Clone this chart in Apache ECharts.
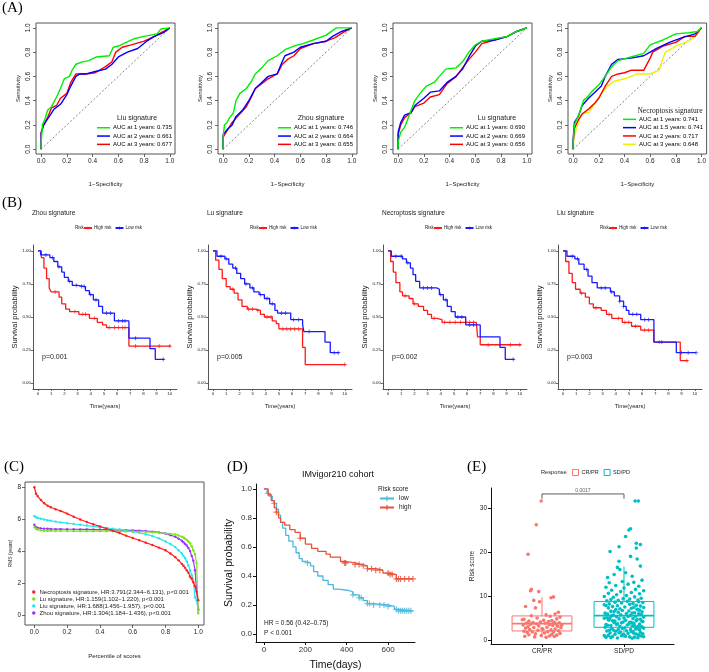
<!DOCTYPE html>
<html><head><meta charset="utf-8">
<script src="https://cdn.jsdelivr.net/npm/echarts@6/dist/echarts.min.js"></script>
<style>html,body{margin:0;padding:0;background:#fff}#c{width:709px;height:672px}</style>
</head><body><div id="c"></div>
<script>
const SANS = "'Liberation Sans', Arial, Helvetica, sans-serif";
const SERIF = "'Liberation Serif', 'Times New Roman', serif";

// ================= DATA =================
// ---- (A) ROC curves: [1-specificity, sensitivity] ----
const rocTicks = [0, 0.2, 0.4, 0.6, 0.8, 1.0];
const rocTitles = ['Liu signature', 'Zhou signature', 'Lu signature', 'Necroptosis signature'];
const liuAucLabels = ['AUC at 1 years: 0.735', 'AUC at 2 years: 0.661', 'AUC at 3 years: 0.677'];
const zhouAucLabels = ['AUC at 1 years: 0.746', 'AUC at 2 years: 0.664', 'AUC at 3 years: 0.655'];
const luAucLabels = ['AUC at 1 years: 0.690', 'AUC at 2 years: 0.669', 'AUC at 3 years: 0.656'];
const necroAucLabels = ['AUC at 1 years: 0.741', 'AUC at 1.5 years: 0.741', 'AUC at 2 years: 0.717', 'AUC at 3 years: 0.648'];
const rocDiagonal = [[0, 0], [1, 1]];

const liuRoc1 = [[0,0],[0,0.05],[0.01,0.2],[0.03,0.25],[0.05,0.32],[0.08,0.35],[0.12,0.43],[0.15,0.5],[0.18,0.58],[0.22,0.6],[0.24,0.65],[0.27,0.7],[0.32,0.72],[0.37,0.73],[0.43,0.76],[0.53,0.77],[0.56,0.84],[0.6,0.85],[0.64,0.87],[0.72,0.91],[0.8,0.93],[0.9,0.95],[0.93,0.99],[1,1]];
const liuRoc2 = [[0,0],[0,0.13],[0.02,0.2],[0.05,0.25],[0.07,0.28],[0.1,0.33],[0.15,0.37],[0.2,0.45],[0.23,0.52],[0.27,0.6],[0.3,0.62],[0.35,0.62],[0.42,0.64],[0.5,0.66],[0.55,0.7],[0.6,0.76],[0.67,0.8],[0.75,0.83],[0.82,0.89],[0.88,0.93],[0.95,0.96],[1,1]];
const liuRoc3 = [[0,0],[0,0.14],[0.02,0.2],[0.05,0.26],[0.08,0.34],[0.12,0.36],[0.15,0.42],[0.2,0.46],[0.23,0.55],[0.27,0.62],[0.35,0.62],[0.42,0.63],[0.5,0.68],[0.55,0.72],[0.58,0.8],[0.63,0.84],[0.7,0.86],[0.8,0.89],[0.88,0.93],[0.95,0.97],[1,1]];
const zhouRoc1 = [[0,0],[0,0.1],[0.01,0.2],[0.03,0.22],[0.05,0.26],[0.08,0.3],[0.1,0.4],[0.13,0.46],[0.18,0.5],[0.22,0.56],[0.25,0.62],[0.3,0.67],[0.35,0.73],[0.42,0.77],[0.48,0.82],[0.55,0.85],[0.62,0.87],[0.7,0.9],[0.8,0.94],[0.88,1],[1,1]];
const zhouRoc2 = [[0,0],[0,0.12],[0.03,0.16],[0.07,0.2],[0.1,0.27],[0.15,0.32],[0.2,0.4],[0.25,0.5],[0.3,0.55],[0.35,0.6],[0.42,0.62],[0.45,0.7],[0.48,0.77],[0.55,0.8],[0.6,0.84],[0.7,0.87],[0.8,0.89],[0.85,0.93],[0.92,0.97],[1,1]];
const zhouRoc3 = [[0,0],[0,0.1],[0.03,0.15],[0.07,0.22],[0.12,0.28],[0.18,0.35],[0.22,0.43],[0.25,0.5],[0.3,0.54],[0.35,0.58],[0.42,0.62],[0.46,0.7],[0.5,0.74],[0.55,0.77],[0.6,0.83],[0.7,0.87],[0.8,0.89],[0.87,0.92],[0.93,0.96],[1,1]];
const luRoc1 = [[0,0],[0,0.06],[0.02,0.14],[0.05,0.18],[0.08,0.26],[0.1,0.32],[0.13,0.4],[0.17,0.46],[0.22,0.52],[0.28,0.55],[0.32,0.6],[0.37,0.66],[0.45,0.67],[0.5,0.72],[0.55,0.8],[0.6,0.86],[0.65,0.89],[0.75,0.91],[0.85,0.93],[0.92,0.97],[1,1]];
const luRoc2 = [[0,0],[0,0.14],[0.02,0.22],[0.05,0.28],[0.1,0.3],[0.13,0.36],[0.2,0.42],[0.25,0.47],[0.32,0.48],[0.38,0.55],[0.45,0.6],[0.5,0.66],[0.55,0.76],[0.6,0.85],[0.65,0.89],[0.75,0.9],[0.85,0.93],[0.92,0.97],[1,1]];
const luRoc3 = [[0,0],[0,0.12],[0.02,0.2],[0.05,0.26],[0.1,0.3],[0.13,0.35],[0.2,0.38],[0.25,0.43],[0.32,0.45],[0.38,0.54],[0.45,0.6],[0.5,0.67],[0.55,0.74],[0.6,0.8],[0.65,0.87],[0.75,0.9],[0.85,0.93],[0.92,0.97],[1,1]];
const necroRoc1 = [[0,0],[0,0.05],[0.01,0.2],[0.03,0.25],[0.05,0.3],[0.08,0.4],[0.12,0.44],[0.15,0.48],[0.2,0.53],[0.25,0.6],[0.3,0.68],[0.35,0.73],[0.45,0.76],[0.55,0.79],[0.6,0.86],[0.7,0.9],[0.8,0.95],[0.9,0.96],[0.97,0.97],[1,1]];
const necroRoc15 = [[0,0],[0,0.08],[0.01,0.22],[0.04,0.27],[0.07,0.36],[0.12,0.42],[0.18,0.48],[0.22,0.52],[0.25,0.6],[0.3,0.7],[0.35,0.74],[0.45,0.75],[0.55,0.77],[0.6,0.8],[0.65,0.83],[0.75,0.88],[0.85,0.92],[0.95,0.95],[1,1]];
const necroRoc2 = [[0,0],[0,0.05],[0.01,0.17],[0.04,0.24],[0.07,0.29],[0.12,0.33],[0.17,0.38],[0.2,0.42],[0.25,0.52],[0.3,0.6],[0.35,0.62],[0.4,0.63],[0.45,0.65],[0.55,0.65],[0.6,0.75],[0.62,0.8],[0.7,0.85],[0.8,0.88],[0.87,0.93],[0.95,0.93],[1,1]];
const necroRoc3 = [[0,0],[0,0.05],[0.02,0.15],[0.05,0.25],[0.08,0.3],[0.12,0.3],[0.17,0.38],[0.22,0.46],[0.27,0.52],[0.32,0.56],[0.4,0.58],[0.45,0.6],[0.5,0.62],[0.6,0.62],[0.67,0.65],[0.7,0.75],[0.72,0.8],[0.8,0.85],[0.9,0.89],[0.95,0.93],[1,1]];

// ---- (B) Kaplan-Meier curves: [years, survival] ----
const kmTitles = ['Zhou signature', 'Lu signature', 'Necroptosis signature', 'Liu signature'];
const kmPValues = ['p=0.001', 'p=0.005', 'p=0.002', 'p=0.003'];
const kmRiskGroups = ['High risk', 'Low risk'];
const kmXTicks = [0,1,2,3,4,5,6,7,8,9,10];
const kmYTicks = [0, 0.25, 0.5, 0.75, 1.0];
const zhouHigh = [[0,1],[0.25,0.95],[0.45,0.87],[0.65,0.79],[0.85,0.72],[1.0,0.69],[1.6,0.65],[1.8,0.6],[2.1,0.56],[2.4,0.54],[3.1,0.52],[3.9,0.49],[4.5,0.46],[4.9,0.44],[5.2,0.42],[6.9,0.28],[10.1,0.28]];
const zhouLow = [[0,1],[0.2,0.97],[0.9,0.95],[1.2,0.92],[1.5,0.88],[1.8,0.84],[2.0,0.8],[2.3,0.77],[2.6,0.74],[3.0,0.73],[3.6,0.7],[3.9,0.67],[4.2,0.63],[4.6,0.58],[4.9,0.53],[5.8,0.47],[6.9,0.34],[8.5,0.26],[8.9,0.18],[9.6,0.18]];
const luHigh = [[0,1],[0.2,0.93],[0.45,0.86],[0.7,0.79],[1.0,0.73],[1.3,0.71],[1.6,0.68],[1.9,0.63],[2.2,0.58],[2.6,0.56],[3.2,0.55],[3.6,0.52],[3.9,0.5],[4.5,0.47],[4.8,0.45],[5.0,0.41],[6.8,0.27],[7.0,0.14],[10.1,0.14]];
const luLow = [[0,1],[0.3,0.96],[0.9,0.94],[1.2,0.9],[1.5,0.87],[1.8,0.83],[2.1,0.79],[2.4,0.75],[2.8,0.72],[3.1,0.69],[3.5,0.67],[3.9,0.64],[4.3,0.6],[4.7,0.55],[4.9,0.53],[5.9,0.48],[6.8,0.44],[6.9,0.39],[8.5,0.31],[8.9,0.23],[9.6,0.23]];
const necroHigh = [[0,1],[0.2,0.92],[0.4,0.84],[0.6,0.76],[0.9,0.69],[1.1,0.66],[1.6,0.64],[1.9,0.6],[2.3,0.58],[2.7,0.55],[3.0,0.52],[3.3,0.49],[3.7,0.48],[4.1,0.46],[6.7,0.45],[6.8,0.35],[7.0,0.29],[10.1,0.29]];
const necroLow = [[0,1],[0.25,0.96],[1.1,0.94],[1.4,0.91],[1.7,0.87],[1.9,0.82],[2.1,0.77],[2.4,0.72],[3.7,0.71],[3.9,0.67],[4.2,0.63],[4.5,0.58],[4.8,0.54],[5.1,0.5],[5.9,0.44],[7.0,0.35],[8.5,0.27],[8.9,0.18],[9.6,0.18]];
const liuHigh = [[0,1],[0.2,0.92],[0.45,0.83],[0.7,0.76],[0.95,0.71],[1.3,0.68],[1.7,0.65],[2.0,0.6],[2.3,0.57],[2.9,0.55],[3.3,0.52],[3.7,0.49],[4.5,0.46],[5.2,0.43],[5.9,0.4],[6.9,0.31],[8.9,0.17],[9.5,0.17]];
const liuLow = [[0,1],[0.3,0.96],[0.9,0.94],[1.2,0.9],[1.6,0.86],[1.9,0.81],[2.2,0.76],[2.6,0.72],[3.6,0.69],[3.9,0.66],[4.3,0.62],[4.6,0.58],[4.8,0.55],[5.0,0.52],[5.9,0.48],[6.9,0.31],[8.6,0.23],[10.1,0.23]];
const zhouHighCens = [1.3, 2.8, 3.4, 3.6, 4.3, 5.4, 5.8, 6.1, 6.4, 6.6, 7.4, 9.2, 10.0];
const zhouLowCens = [0.6, 1.1, 1.6, 2.4, 2.9, 3.3, 3.5, 4.0, 4.4, 5.2, 5.5, 6.1, 6.4, 6.6, 7.4, 9.5];
const luHighCens = [1.5, 2.7, 3.0, 3.4, 4.1, 4.4, 5.3, 5.6, 5.9, 6.2, 6.5, 10.0];
const luLowCens = [0.6, 1.0, 1.7, 2.5, 3.0, 3.6, 4.1, 4.5, 5.2, 5.5, 6.1, 6.5, 7.3, 9.2, 9.5];
const necroHighCens = [1.3, 2.0, 3.5, 4.3, 4.7, 5.1, 5.5, 5.9, 6.2, 6.5, 7.6, 9.3, 10.0];
const necroLowCens = [0.6, 1.0, 1.5, 2.7, 3.0, 3.3, 4.0, 4.4, 5.3, 5.6, 6.2, 6.5, 9.5];
const liuHighCens = [1.4, 2.5, 3.5, 4.2, 4.7, 5.0, 5.5, 6.2, 6.5, 7.3, 9.4];
const liuLowCens = [0.7, 1.1, 1.8, 2.9, 3.2, 3.7, 4.3, 4.6, 5.3, 5.6, 6.2, 6.5, 7.5, 9.0, 9.5, 10.1];

// ---- (C) RMS curves ----
const rmsPct = [0, .01, .02, .04, .06, .08, .10, .13, .16, .20, .24, .28, .32, .36, .40, .44, .48, .52, .56, .60, .64, .68, .72, .76, .80, .83, .86, .88, .90, .91, .92, .93, .94, .95, .96, .97, .98, .99, 1.0];
const rmsNecro = [8.0, 7.6, 7.45, 7.2, 7.0, 6.85, 6.75, 6.62, 6.52, 6.35, 6.15, 5.98, 5.82, 5.68, 5.55, 5.4, 5.27, 5.13, 4.97, 4.82, 4.68, 4.53, 4.38, 4.22, 4.05, 3.85, 3.62, 3.42, 3.2, 3.08, 2.95, 2.8, 2.65, 2.4, 2.3, 2.05, 1.8, 1.45, 0.92];
const rmsLu = [5.5, 5.4, 5.35, 5.3, 5.28, 5.27, 5.27, 5.26, 5.26, 5.26, 5.25, 5.25, 5.25, 5.25, 5.25, 5.25, 5.25, 5.24, 5.23, 5.23, 5.22, 5.2, 5.18, 5.15, 5.12, 5.08, 5.05, 4.98, 4.9, 4.85, 4.78, 4.7, 4.6, 4.5, 4.3, 4.05, 3.8, 3.25, 0.1];
const rmsLiu = [6.2, 6.12, 6.08, 6.03, 5.98, 5.94, 5.9, 5.85, 5.8, 5.75, 5.7, 5.65, 5.6, 5.55, 5.5, 5.45, 5.4, 5.35, 5.28, 5.22, 5.15, 5.05, 4.95, 4.8, 4.6, 4.45, 4.25, 4.05, 3.85, 3.7, 3.55, 3.35, 3.1, 2.8, 2.5, 2.2, 1.1, 0.9, 0.25];
const rmsZhou = [5.65, 5.5, 5.45, 5.42, 5.4, 5.4, 5.39, 5.38, 5.38, 5.37, 5.37, 5.36, 5.36, 5.35, 5.35, 5.34, 5.33, 5.32, 5.31, 5.3, 5.28, 5.26, 5.22, 5.17, 5.1, 5.0, 4.9, 4.78, 4.65, 4.55, 4.45, 4.35, 4.2, 4.0, 3.7, 3.4, 2.8, 1.5, 0.35];
const rmsLabels = ['Necroptosis signature, HR:3.791(2.344\u22126.131), p<0.001', 'Lu signature, HR:1.159(1.102\u22121.220), p<0.001', 'Liu signature, HR:1.688(1.456\u22121.957), p<0.001', 'Zhou signature, HR:1.304(1.184\u22121.436), p<0.001'];
const rmsXTicks = [0, 0.2, 0.4, 0.6, 0.8, 1.0];
const rmsYTicks = [0, 2, 4, 6, 8];

// ---- (D) IMvigor210 KM: [days, survival] ----
const dGroups = ['low', 'high'];
const dLow = [[0,1],[15,0.97],[25,0.95],[40,0.92],[50,0.9],[60,0.86],[70,0.82],[80,0.77],[90,0.73],[105,0.68],[120,0.64],[140,0.6],[155,0.56],[170,0.52],[185,0.5],[200,0.49],[225,0.47],[240,0.43],[260,0.4],[285,0.37],[310,0.34],[335,0.31],[360,0.3],[410,0.29],[430,0.27],[460,0.25],[480,0.23],[500,0.21],[530,0.2],[600,0.19],[630,0.17],[650,0.16],[720,0.16]];
const dHigh = [[0,1],[20,0.96],[35,0.92],[50,0.87],[60,0.84],[70,0.8],[80,0.77],[100,0.75],[125,0.72],[150,0.7],[175,0.66],[200,0.62],[230,0.59],[260,0.57],[300,0.55],[320,0.53],[370,0.5],[390,0.49],[440,0.48],[470,0.47],[500,0.45],[540,0.44],[575,0.42],[610,0.41],[640,0.38],[720,0.38]];
const dLowCens = [20, 50, 210, 430, 460, 470, 500, 510, 530, 560, 580, 600, 640, 650, 660, 670, 680, 690, 700, 710];
const dHighCens = [60, 175, 390, 395, 440, 460, 480, 500, 520, 540, 560, 600, 610, 620, 640, 650, 660, 680, 700, 720];
const dXTicks = [0, 200, 400, 600];
const dYTicks = [0, 0.2, 0.4, 0.6, 0.8, 1.0];

// ---- (E) Risk score by response ----
const responseGroups = ['CR/PR', 'SD/PD'];
const crprBox = [0.7, 2.05, 3.72, 5.47, 9.7];   // lower whisker, Q1, median, Q3, upper whisker
const sdpdBox = [0.45, 2.89, 5.54, 8.73, 16.7];
const crprValues = [31.6, 26.2, 19.5, 11.5, 11.2, 11.0, 9.8, 9.6, 9.0, 8.7, 7.6, 7.3, 6.3, 5.9, 5.7, 5.5, 5.4, 5.2, 5.0, 4.8, 4.7, 4.5, 4.4, 4.3, 4.2, 4.1, 4.0, 3.95, 3.9, 3.85, 3.8, 3.7, 3.65, 3.6, 3.5, 3.4, 3.3, 3.2, 3.1, 3.0, 2.9, 2.85, 2.8, 2.7, 2.6, 2.5, 2.4, 2.3, 2.2, 2.1, 2.0, 1.9, 1.85, 1.8, 1.7, 1.6, 1.5, 1.4, 1.3, 1.2, 1.1, 1.0, 0.9, 0.85, 0.8, 0.7, 0.6, 4.6, 3.35, 2.45];
const crprJitter = [-0.01, -0.07, -0.17, -0.13, -0.14, -0.04, 0.14, 0.11, -0.10, -0.03, -0.2, -0.08, 0.2, 0.16, 0.05, -0.13, 0.1, 0.22, -0.06, 0.18, -0.22, 0.02, 0.12, -0.16, 0.08, -0.02, 0.15, -0.11, 0.21, -0.19, 0.04, -0.07, 0.17, -0.14, 0.09, -0.23, 0.13, -0.04, 0.19, -0.17, 0.06, -0.1, 0.23, -0.2, 0.0, 0.16, -0.15, 0.11, -0.05, 0.2, -0.22, 0.07, -0.12, 0.14, -0.18, 0.03, 0.22, -0.08, 0.12, -0.16, 0.18, -0.01, 0.09, -0.21, 0.15, -0.09, 0.05, -0.24, 0.24, 0.01];
const sdpdValues = [31.6, 31.6, 25.3, 25.0, 23.5, 22.0, 21.7, 21.2, 20.9, 20.1, 19.0, 18.4, 17.9, 16.8, 16.5, 16.0, 15.3, 14.9, 14.5, 14.2, 13.6, 13.3, 13.1, 13.0, 12.7, 12.4, 12.2, 12.0, 11.8, 11.5, 11.3, 11.2, 11.0, 10.8, 10.6, 10.5, 10.3, 10.1, 9.9, 9.8, 9.7, 9.5, 9.4, 9.3, 9.2, 9.1, 9.0,
  8.9, 8.8, 8.7, 8.6, 8.5, 8.4, 8.3, 8.2, 8.1, 8.0,
  7.9, 7.8, 7.7, 7.6, 7.5, 7.4, 7.3, 7.2, 7.1, 7.0, 7.85, 7.45,
  6.9, 6.8, 6.7, 6.6, 6.5, 6.4, 6.3, 6.2, 6.1, 6.0, 6.85, 6.45, 6.15,
  5.9, 5.8, 5.7, 5.6, 5.5, 5.4, 5.3, 5.2, 5.1, 5.0, 5.95, 5.65, 5.35, 5.05,
  4.9, 4.8, 4.7, 4.6, 4.5, 4.4, 4.3, 4.2, 4.1, 4.0, 4.95, 4.65, 4.35, 4.05, 4.55, 4.25,
  3.9, 3.8, 3.7, 3.6, 3.5, 3.4, 3.3, 3.2, 3.1, 3.0, 3.95, 3.65, 3.35, 3.05, 3.55, 3.25,
  2.9, 2.8, 2.7, 2.6, 2.5, 2.4, 2.3, 2.2, 2.1, 2.0, 2.95, 2.65, 2.35, 2.05, 2.55, 2.25,
  1.9, 1.8, 1.7, 1.6, 1.5, 1.4, 1.3, 1.2, 1.1, 1.0, 1.95, 1.65, 1.35, 1.05, 1.55, 1.25,
  0.9, 0.8, 0.7, 0.6, 0.5, 0.45, 0.85, 0.65, 0.55, 0.75, 0.95, 0.4];
const sdpdJitter = [0.135, 0.175, 0.08, 0.06, 0.02, 0.15, 0.2, -0.06, 0.15, -0.17, 0.08, 0.16, -0.06, 0.2, -0.08, -0.05, 0.02, -0.12, 0.1, -0.2, 0.22, -0.02, 0.12, -0.18, 0.05, -0.1, 0.18, -0.22, 0.0, 0.14, -0.15, 0.24, -0.04, 0.09, -0.19, 0.19, -0.09, 0.03, -0.24, 0.13, -0.13, 0.21, -0.01, 0.07, -0.16, 0.17, -0.07,
  -0.21, 0.04, 0.18, -0.11, 0.23, -0.03, 0.11, -0.18, 0.07, -0.24,
  0.15, -0.08, 0.2, -0.14, 0.01, 0.24, -0.19, 0.09, -0.05, 0.16,
  -0.22, 0.12, -0.1, 0.19, -0.02, 0.06, -0.16, 0.22, -0.07, 0.13,
  -0.23, 0.03, 0.17, -0.12, 0.1, -0.2, 0.21, -0.04, 0.08, -0.15,
  0.14, -0.09, 0.24, -0.17, 0.0, 0.18, -0.13, 0.05, -0.21, 0.11,
  -0.06, 0.2, -0.18, 0.02, 0.15, -0.11, 0.23, -0.01, 0.09, -0.24,
  0.16, -0.14, 0.07, -0.19, 0.22, -0.03, 0.12, -0.08, 0.19, -0.22,
  0.04, -0.16, 0.13, -0.05, 0.21, -0.12, 0.06, -0.2, 0.17, -0.09,
  0.1, -0.23, 0.01, 0.24, -0.15, 0.14, -0.07, 0.19, -0.18, 0.03,
  -0.1, 0.22, -0.02, 0.08, -0.21, 0.16, -0.13, 0.11, -0.04, 0.2,
  -0.17, 0.05, 0.23, -0.11, 0.0, 0.18, -0.24, 0.09, -0.06, 0.15,
  -0.19, 0.12, -0.01, 0.21, -0.14, 0.07, -0.22, 0.17, -0.08, 0.02,
  0.13, -0.16, 0.24, -0.03, 0.1];
const eYTicks = [0, 10, 20, 30];
const bracketX = [1, 1, 2, 2];
const bracketY = [32.1, 33.2, 33.2, 32.1];
const pLabel = '0.0017';

// ================= BUILD =================
const chart = echarts.init(document.getElementById('c'), null, {renderer: 'canvas', width: 709, height: 672});
const grid = [], xAxis = [], yAxis = [], series = [], legend = [], graphic = [];
const PLUS = 'path://M4,0H6V4H10V6H6V10H4V6H0V4H4Z';

function txt(x, y, text, size, opts) {
  opts = opts || {};
  graphic.push({type: 'text', x: x, y: y, rotation: opts.rotation || 0, silent: true, style: {
    text: text, fill: opts.color || '#000', fontSize: size, fontFamily: opts.family || SANS,
    fontWeight: opts.weight || 'normal',
    align: opts.align || 'left', verticalAlign: opts.va || 'middle', textAlign: opts.align || 'left', textVerticalAlign: opts.va || 'middle'}});
}
function stepAt(curve, t) { let y = curve[0][1]; for (const p of curve) { if (p[0] <= t) y = p[1]; else break; } return y; }
function baseAxis(gi, min, max, ticks, fmt, fs, extra) {
  return Object.assign({gridIndex: gi, type: 'value', min: min, max: max,
    axisLine: {show: false, onZero: false}, splitLine: {show: false},
    axisTick: {show: true, inside: false, length: 3, customValues: ticks, lineStyle: {color: '#444', width: 0.8}},
    axisLabel: {customValues: ticks, formatter: fmt, fontSize: fs, color: '#222', fontFamily: SANS, margin: 4}}, extra || {});
}

// ---- Panel labels ----
txt(2, 8, '(A)', 15, {family: SERIF});
txt(2, 203, '(B)', 15, {family: SERIF});
txt(4, 467, '(C)', 15, {family: SERIF});
txt(227, 467, '(D)', 15, {family: SERIF});
txt(467, 467, '(E)', 15, {family: SERIF});

// ---- (A) ROC ----
const rocPanels = [
  {labels: liuAucLabels, curves: [liuRoc1, liuRoc2, liuRoc3]},
  {labels: zhouAucLabels, curves: [zhouRoc1, zhouRoc2, zhouRoc3]},
  {labels: luAucLabels, curves: [luRoc1, luRoc2, luRoc3]},
  {labels: necroAucLabels, curves: [necroRoc1, necroRoc15, necroRoc2, necroRoc3]}
];
const ROC_LEFT = [36, 218, 393, 568];
const ROC_COLORS = [['#00ee00', '#0000ff', '#ff0000'], ['#00ee00', '#0000ff', '#ff0000', '#f0f000']];
const ROC_LEG = [[97, 123.6], [278, 123.6], [450, 123.6], [623, 115.2]];
const ROC_TITLE = [[137, 118, SANS], [321, 118, SANS], [497, 118, SANS], [670, 111, SERIF]];
rocPanels.forEach((p, i) => {
  const gi = grid.length;
  grid.push({left: ROC_LEFT[i], top: 23, width: 139, height: 131, show: true, borderColor: '#555', borderWidth: 1, backgroundColor: 'transparent'});
  xAxis.push(baseAxis(gi, -0.04, 1.04, rocTicks, v => v.toFixed(1), 6.5,
    {name: '1\u2212Specificity', nameLocation: 'middle', nameGap: 27, nameTextStyle: {fontSize: 6, fontFamily: SANS, color: '#222'}}));
  const ya = baseAxis(gi, -0.04, 1.04, rocTicks, v => v.toFixed(1), 6.5,
    {name: 'Sensitivity', nameLocation: 'middle', nameGap: 15, nameTextStyle: {fontSize: 6, fontFamily: SANS, color: '#222'}});
  ya.axisLabel.rotate = 90;
  yAxis.push(ya);
  series.push({type: 'line', xAxisIndex: gi, yAxisIndex: gi, data: rocDiagonal, symbol: 'none', silent: true,
    lineStyle: {type: [2, 2], color: '#666', width: 0.8}, z: 1});
  const cols = p.curves.length === 4 ? ROC_COLORS[1] : ROC_COLORS[0];
  p.curves.forEach((c, k) => {
    series.push({type: 'line', name: p.labels[k], xAxisIndex: gi, yAxisIndex: gi, data: c, symbol: 'none',
      lineStyle: {color: cols[k], width: 1.4}, itemStyle: {color: cols[k]}, z: 3 + (p.curves.length - k)});
  });
  legend.push({data: p.labels.map(n => ({name: n, icon: 'rect'})), orient: 'vertical', left: ROC_LEG[i][0], top: ROC_LEG[i][1], padding: 0, itemGap: 0,
    itemWidth: 13, itemHeight: 1.5, selectedMode: false, textStyle: {fontSize: 6, lineHeight: 8.3, fontFamily: SANS, color: '#000', padding: [0, 0, 0, -2]}});
  txt(ROC_TITLE[i][0], ROC_TITLE[i][1], rocTitles[i], i === 3 ? 7.5 : 7, {align: 'center', family: ROC_TITLE[i][2], color: '#222'});
});

// ---- (B) KM ----
const kmPanels = [
  {high: zhouHigh, low: zhouLow, hc: zhouHighCens, lc: zhouLowCens},
  {high: luHigh, low: luLow, hc: luHighCens, lc: luLowCens},
  {high: necroHigh, low: necroLow, hc: necroHighCens, lc: necroLowCens},
  {high: liuHigh, low: liuLow, hc: liuHighCens, lc: liuLowCens}
];
const KM_LEFT = [33, 208, 383, 558];
const KM_RED = '#ff1a1a', KM_BLUE = '#1a1aff';
kmPanels.forEach((p, i) => {
  const gi = grid.length;
  const L = KM_LEFT[i];
  grid.push({left: L, top: 245, width: 144, height: 144});
  const xa = baseAxis(gi, -0.38, 10.55, kmXTicks, v => String(v), 4.4,
    {name: 'Time(years)', nameLocation: 'middle', nameGap: 14, nameTextStyle: {fontSize: 5.8, fontFamily: SANS, color: '#222'}});
  xa.axisLine = {show: true, onZero: false, lineStyle: {color: '#555', width: 1}};
  xa.axisTick.length = 2; xa.axisLabel.margin = 3;
  xAxis.push(xa);
  const ya = baseAxis(gi, -0.045, 1.045, kmYTicks, v => v.toFixed(2), 4.4,
    {name: 'Survival probability', nameLocation: 'middle', nameGap: 13, nameTextStyle: {fontSize: 7.5, fontFamily: SANS, color: '#222'}});
  ya.axisLine = {show: true, onZero: false, lineStyle: {color: '#555', width: 1}};
  ya.axisTick.length = 2; ya.axisLabel.margin = 2;
  yAxis.push(ya);
  [[p.high, p.hc, KM_RED, kmRiskGroups[0]], [p.low, p.lc, KM_BLUE, kmRiskGroups[1]]].forEach(([curve, cens, col, nm]) => {
    series.push({type: 'line', name: nm, step: 'end', xAxisIndex: gi, yAxisIndex: gi, data: curve,
      symbol: PLUS, symbolSize: 5, showSymbol: false, lineStyle: {color: col, width: 1.3}, itemStyle: {color: col}});
    series.push({type: 'scatter', name: nm + ' censored', xAxisIndex: gi, yAxisIndex: gi,
      data: cens.map(t => [t, stepAt(curve, t)]), symbol: PLUS, symbolSize: 4, itemStyle: {color: col}});
  });
  txt(L - 1, 213, kmTitles[i], 6.5, {color: '#222'});
  txt(L + 42, 228, 'Risk', 4.5, {color: '#222'});
  legend.push({data: kmRiskGroups, left: L + 50, top: 225.5, padding: 0, itemGap: 3, itemWidth: 8, itemHeight: 4,
    selectedMode: false, textStyle: {fontSize: 4.5, fontFamily: SANS, color: '#222', padding: [0, 0, 0, -3]}});
  txt(L + 9, 357, kmPValues[i], 7, {color: '#222'});
});

// ---- (C) RMS ----
{
  const gi = grid.length;
  grid.push({left: 25, top: 482, width: 179, height: 143, show: true, borderColor: '#555', borderWidth: 1, backgroundColor: 'transparent'});
  xAxis.push(baseAxis(gi, -0.057, 1.035, rmsXTicks, v => v.toFixed(1), 6.5,
    {name: 'Percentile of scores', nameLocation: 'middle', nameGap: 28, nameTextStyle: {fontSize: 6, fontFamily: SANS, color: '#222'}}));
  yAxis.push(baseAxis(gi, -0.63, 8.33, rmsYTicks, v => String(v), 6.5,
    {name: 'RMS (years)', nameLocation: 'middle', nameGap: 11, nameTextStyle: {fontSize: 5, fontFamily: SANS, color: '#222'}}));
  const cols = ['#ff2020', '#80e020', '#22e8f0', '#9b30ff'];
  [rmsNecro, rmsLu, rmsLiu, rmsZhou].forEach((vals, k) => {
    series.push({type: 'line', name: rmsLabels[k], xAxisIndex: gi, yAxisIndex: gi,
      data: rmsPct.map((p, j) => [p, vals[j]]), symbol: 'circle', symbolSize: 2.4, showSymbol: true,
      lineStyle: {color: cols[k], width: 1.2}, itemStyle: {color: cols[k]}, z: 5 - k});
  });
  legend.push({data: rmsLabels.map(n => ({name: n, icon: 'circle'})), orient: 'vertical', left: 32, top: 588.5, padding: 0, itemGap: 0,
    itemWidth: 3.5, itemHeight: 3.5, selectedMode: false, textStyle: {fontSize: 6, lineHeight: 7, fontFamily: SANS, color: '#222', padding: [0, 0, 0, -1]}});
}

// ---- (D) IMvigor210 ----
{
  const gi = grid.length;
  grid.push({left: 256, top: 484, width: 159, height: 159});
  const xa = baseAxis(gi, -38.7, 730, dXTicks, v => String(v), 8,
    {name: 'Time(days)', nameLocation: 'middle', nameGap: 18, nameTextStyle: {fontSize: 10.5, fontFamily: SANS, color: '#111'}});
  xa.axisLine = {show: true, onZero: false, lineStyle: {color: '#111', width: 1}};
  xa.axisTick.lineStyle = {color: '#111'}; xa.axisLabel.color = '#333';
  xAxis.push(xa);
  const ya = baseAxis(gi, -0.055, 1.034, dYTicks, v => v.toFixed(1), 8,
    {name: 'Survival probability', nameLocation: 'middle', nameGap: 21, nameTextStyle: {fontSize: 10.5, fontFamily: SANS, color: '#111'}});
  ya.axisLine = {show: true, onZero: false, lineStyle: {color: '#111', width: 1}};
  ya.axisTick.lineStyle = {color: '#111'}; ya.axisLabel.color = '#333';
  yAxis.push(ya);
  const cols = ['#4db6dc', '#e8503a'];
  [[dLow, dLowCens], [dHigh, dHighCens]].forEach(([curve, cens], k) => {
    series.push({type: 'line', name: dGroups[k], step: 'end', xAxisIndex: gi, yAxisIndex: gi, data: curve,
      symbol: PLUS, symbolSize: 7, showSymbol: false, lineStyle: {color: cols[k], width: 1.3}, itemStyle: {color: cols[k]}});
    series.push({type: 'scatter', name: dGroups[k] + ' censored', xAxisIndex: gi, yAxisIndex: gi,
      data: cens.map(t => [t, stepAt(curve, t)]), symbol: PLUS, symbolSize: 6, itemStyle: {color: cols[k]}});
  });
  txt(338, 475, 'IMvigor210 cohort', 9, {align: 'center', color: '#111'});
  txt(378, 489, 'Risk score', 6.5, {color: '#222'});
  legend.push({data: dGroups, orient: 'vertical', left: 379, top: 495, padding: 0, itemGap: 2, itemWidth: 14, itemHeight: 7,
    selectedMode: false, textStyle: {fontSize: 6.5, fontFamily: SANS, color: '#222'}});
  txt(264, 623, 'HR = 0.56 (0.42\u20130.75)', 6.5, {color: '#222'});
  txt(264, 633, 'P < 0.001', 6.5, {color: '#222'});
}

// ---- (E) Risk score boxplot ----
{
  const gi = grid.length;
  grid.push({left: 491, top: 488, width: 183, height: 156});
  const xa = baseAxis(gi, 0.378, 2.61, [1, 2], v => responseGroups[Math.round(v) - 1], 6.5, {});
  xa.axisLine = {show: true, onZero: false, lineStyle: {color: '#111', width: 1}};
  xa.axisTick.lineStyle = {color: '#111'}; xa.axisLabel.color = '#222';
  xAxis.push(xa);
  const ya = baseAxis(gi, -0.91, 34.55, eYTicks, v => String(v), 6.5,
    {name: 'Risk score', nameLocation: 'middle', nameGap: 13, nameTextStyle: {fontSize: 6.5, fontFamily: SANS, color: '#222'}});
  ya.axisLine = {show: true, onZero: false, lineStyle: {color: '#111', width: 1}};
  ya.axisTick.lineStyle = {color: '#111'}; ya.axisLabel.color = '#222';
  yAxis.push(ya);
  const cols = ['#F8766D', '#00BFC4'];
  const BOX_W = 0.73;
  [crprBox, sdpdBox].forEach((b, k) => {
    series.push({type: 'custom', name: responseGroups[k], xAxisIndex: gi, yAxisIndex: gi,
      data: [[k + 1].concat(b)], encode: {x: 0, y: [1, 2, 3, 4, 5]}, itemStyle: {color: cols[k]}, z: 2,
      renderItem: function (params, api) {
        const x = api.value(0);
        const lo = api.coord([x, api.value(1)]), q1 = api.coord([x, api.value(2)]), md = api.coord([x, api.value(3)]),
              q3 = api.coord([x, api.value(4)]), hi = api.coord([x, api.value(5)]);
        const hw = api.size([BOX_W, 0])[0] / 2;
        const c = cols[k];
        return {type: 'group', children: [
          {type: 'line', shape: {x1: lo[0], y1: lo[1], x2: q1[0], y2: q1[1]}, style: {stroke: c, lineWidth: 1}},
          {type: 'line', shape: {x1: q3[0], y1: q3[1], x2: hi[0], y2: hi[1]}, style: {stroke: c, lineWidth: 1}},
          {type: 'rect', shape: {x: q1[0] - hw, y: q3[1], width: 2 * hw, height: q1[1] - q3[1]}, style: {fill: 'rgba(255,255,255,0)', stroke: c, lineWidth: 1}},
          {type: 'line', shape: {x1: md[0] - hw, y1: md[1], x2: md[0] + hw, y2: md[1]}, style: {stroke: c, lineWidth: 1.6}}
        ]};
      }});
  });
  [[crprValues, crprJitter], [sdpdValues, sdpdJitter]].forEach(([vals, jit], k) => {
    const n = Math.min(vals.length, jit.length);
    const pts = [];
    for (let j = 0; j < n; j++) pts.push([k + 1 + jit[j], vals[j]]);
    series.push({type: 'scatter', name: responseGroups[k] + ' points', xAxisIndex: gi, yAxisIndex: gi, data: pts,
      symbolSize: 3.6, itemStyle: {color: cols[k], opacity: 1}, z: 4});
  });
  series.push({type: 'line', xAxisIndex: gi, yAxisIndex: gi, data: bracketX.map((x, j) => [x, bracketY[j]]),
    symbol: 'none', lineStyle: {color: '#333', width: 0.8}, silent: true});
  series.push({type: 'scatter', xAxisIndex: gi, yAxisIndex: gi, data: [[(bracketX[0] + bracketX[3]) / 2, Math.max(...bracketY)]],
    symbolSize: 0, silent: true, label: {show: true, position: 'top', distance: 1, formatter: pLabel, fontSize: 5, fontFamily: SANS, color: '#333'}});
  txt(541, 472, 'Response', 5.7, {color: '#222'});
  legend.push({data: responseGroups.map((n, k) => ({name: n, icon: 'rect', itemStyle: {color: '#fff', borderColor: cols[k], borderWidth: 1}})),
    left: 572, top: 469, padding: 0, itemGap: 5, itemWidth: 6, itemHeight: 6, selectedMode: false,
    textStyle: {fontSize: 5.5, fontFamily: SANS, color: '#222', padding: [0, 0, 0, -2]}});
}

chart.setOption({animation: false, backgroundColor: '#fff', grid: grid, xAxis: xAxis, yAxis: yAxis, series: series, legend: legend, graphic: graphic});
</script></body></html>
